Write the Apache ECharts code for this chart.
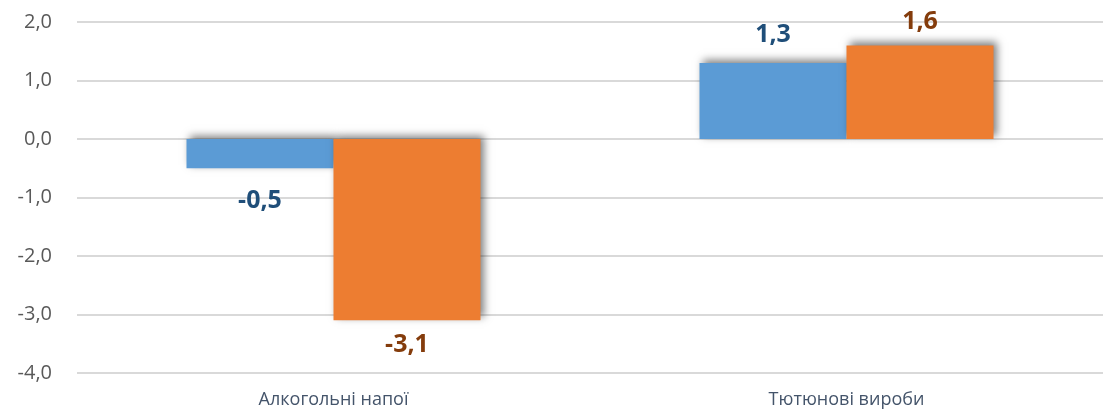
<!DOCTYPE html>
<html>
<head>
<meta charset="utf-8">
<script src="https://cdn.jsdelivr.net/npm/echarts@6/dist/echarts.min.js"></script>
<style>html,body{margin:0;padding:0;background:#fff}#c{width:1104px;height:411px}</style>
</head>
<body>
<div id="c"></div>
<script>
var categories = ['Алкогольні напої', 'Тютюнові вироби'];
var seriesA = [-0.5, 1.3];
var seriesB = [-3.1, 1.6];
var yMin = -4, yMax = 2, yStep = 1;

function fmt(v) { return v.toFixed(1).replace('.', ','); }

var chart = echarts.init(document.getElementById('c'), null, {renderer: 'canvas'});
function makeData(arr, color) {
  return arr.map(function (v) {
    // labels near the plot edge are pulled closer to the bar (as in the original)
    var nearEdge = (v > yMax - 0.6) || (v < yMin + 1.1);
    var dist = v < 0 ? (nearEdge ? 12 : 20) : (nearEdge ? 11 : 16);
    return {
      value: v,
      label: {
        show: true,
        position: v < 0 ? 'bottom' : 'top',
        distance: dist,
        color: color,
        fontFamily: 'Open Sans',
        fontWeight: 'bold',
        fontSize: 25,
        formatter: function (p) { return fmt(p.value); }
      }
    };
  });
}
var shadow = {shadowColor: 'rgba(0,0,0,0.5)', shadowBlur: 8, shadowOffsetX: 3, shadowOffsetY: -3};
chart.setOption({
  animation: false,
  grid: {left: 77, right: 1, top: 22, bottom: 38, containLabel: false},
  xAxis: {
    type: 'category',
    data: categories,
    axisLine: {show: false},
    axisTick: {show: false},
    axisLabel: {color: '#44546A', fontFamily: 'Open Sans', fontSize: 18, margin: 18}
  },
  yAxis: {
    type: 'value',
    min: yMin, max: yMax, interval: yStep,
    axisLine: {show: false},
    axisTick: {show: false},
    splitLine: {lineStyle: {color: '#D9D9D9', width: 2}},
    axisLabel: {color: '#595959', fontFamily: 'Open Sans', fontSize: 20, margin: 25, formatter: fmt}
  },
  series: [
    {type: 'bar', data: makeData(seriesA, '#1F4E79'), barWidth: 147, barGap: '0%',
     itemStyle: Object.assign({color: '#5B9BD5'}, shadow)},
    {type: 'bar', data: makeData(seriesB, '#843C0C'), barWidth: 147, barGap: '0%',
     itemStyle: Object.assign({color: '#ED7D31'}, shadow)}
  ]
});
</script>
</body>
</html>
